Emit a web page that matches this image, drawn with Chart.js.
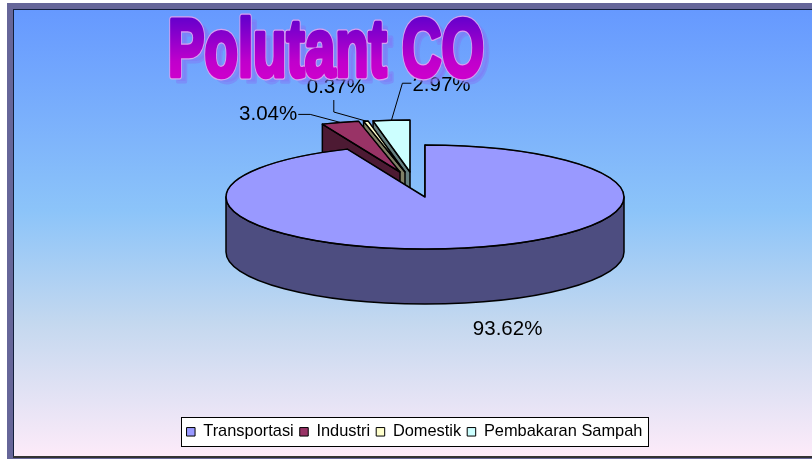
<!DOCTYPE html>
<html><head><meta charset="utf-8">
<style>html,body{margin:0;padding:0;background:#fff}canvas{display:block}</style>
<script src="https://cdn.jsdelivr.net/npm/chart.js@4/dist/chart.umd.min.js"></script>
</head><body>
<div style="width:812px;height:459px"><canvas id="c" width="812" height="459"></canvas></div>
<script>
const categories = ['Transportasi','Industri','Domestik','Pembakaran Sampah'];
const percentages = [93.62,3.04,0.37,2.97];
const faceColors = ['#9999ff','#993366','#ffffcc','#ccffff'];
const wallColors = ['#4d4d80','#4d1a33','#808066','#668080'];
const titleText = 'Polutant CO';

const CX=425, CY=197, RX=199, RY=52, DEPTH=55;
const explodeX=[0,-25,-20,-15], explodeY=[0,-25,-25,-25];
const labelOffset=[[43,81],[-72,-8],[-30,-34],[50,-35]];
const K=RY/RX;
const FONT='"Liberation Sans", Arial, sans-serif';

function place(ctx,arc,i){
  ctx.translate(CX+explodeX[i],CY+explodeY[i]);
  ctx.scale(1,K);
  ctx.translate(-arc.x,-arc.y);
}
function pt(arc,i,a){
  return [CX+explodeX[i]+Math.cos(a)*RX, CY+explodeY[i]+Math.sin(a)*RY];
}
function drawWall(ctx,arc,i){
  ctx.lineWidth=1.5;ctx.strokeStyle='#000';ctx.fillStyle=wallColors[i];ctx.lineJoin='round';
  const a=arc.startAngle, p=pt(arc,i,a);
  const tx=CX+explodeX[i], ty=CY+explodeY[i];
  ctx.beginPath();ctx.moveTo(tx,ty);ctx.lineTo(p[0],p[1]);ctx.lineTo(p[0],p[1]+DEPTH);ctx.lineTo(tx,ty+DEPTH);ctx.closePath();
  ctx.fill();ctx.stroke();
  const s=Math.max(arc.startAngle,0), e=Math.min(arc.endAngle,Math.PI);
  if(e>s){
    ctx.beginPath();
    ctx.ellipse(tx,ty,RX,RY,0,s,e,false);
    ctx.ellipse(tx,ty+DEPTH,RX,RY,0,e,s,true);
    ctx.closePath();ctx.fill();ctx.stroke();
  }
}
function drawFace(ctx,arc,i){
  ctx.save();place(ctx,arc,i);arc.draw(ctx);ctx.restore();
  const tx=CX+explodeX[i], ty=CY+explodeY[i];
  ctx.lineWidth=1.5;ctx.strokeStyle='#000';ctx.lineJoin='round';
  ctx.beginPath();ctx.moveTo(tx,ty);
  ctx.ellipse(tx,ty,RX,RY,0,arc.startAngle,arc.endAngle,false);
  ctx.closePath();ctx.stroke();
}
const pie3d={
  id:'pie3d',
  beforeDraw(chart){
    const ctx=chart.ctx,W=chart.width,H=chart.height;
    ctx.save();
    ctx.fillStyle='#fff';ctx.fillRect(0,0,W,H);
    ctx.fillStyle='#666699';ctx.fillRect(7,3,W-7,H-3);
    const g=ctx.createLinearGradient(0,10,0,457);
    g.addColorStop(0,'#6699ff');g.addColorStop(0.45,'#8cc4f9');g.addColorStop(0.7,'#c4d8ef');g.addColorStop(1,'#fdebf9');
    ctx.fillStyle=g;ctx.fillRect(14,10,W-14,446);
    ctx.fillStyle='#14203c';ctx.fillRect(13,9,W-13,1);ctx.fillRect(13,9,1,448);
    ctx.fillStyle='#333';ctx.fillRect(13,456,W-13,2);
    ctx.fillStyle='#fff';ctx.strokeStyle='#000';ctx.lineWidth=1;
    ctx.fillRect(181.5,417.5,467,29);ctx.strokeRect(181.5,417.5,467,29);
    ctx.restore();
  },
  beforeDatasetDraw(chart){
    const ctx=chart.ctx,arcs=chart.getDatasetMeta(0).data;
    ctx.save();
    for(let i=arcs.length-1;i>=0;i--){drawWall(ctx,arcs[i],i);drawFace(ctx,arcs[i],i);}
    ctx.restore();
    return false;
  },
  afterDatasetsDraw(chart){
    const ctx=chart.ctx,arcs=chart.getDatasetMeta(0).data;
    ctx.save();
    ctx.font='20.5px '+FONT;ctx.textBaseline='middle';ctx.textAlign='center';
    arcs.forEach((arc,i)=>{
      const mid=(arc.startAngle+arc.endAngle)/2,p=pt(arc,i,mid);
      const lx=p[0]+labelOffset[i][0],ly=p[1]+labelOffset[i][1];
      const text=percentages[i].toFixed(2)+'%';
      ctx.strokeStyle='#000';ctx.lineWidth=1;
      if(i>0){
        const w=ctx.measureText(text).width/2;
        ctx.beginPath();
        if(i===1){ctx.moveTo(lx+w+1,ly);ctx.lineTo(lx+w+13,ly);}
        if(i===2){ctx.moveTo(lx-2,ly+13);ctx.lineTo(lx-2,ly+25);}
        if(i===3){ctx.moveTo(lx-w-1,ly-2);ctx.lineTo(lx-w-10,ly-2);}
        ctx.lineTo(p[0],p[1]);ctx.stroke();
      }
      ctx.fillStyle='#000';ctx.fillText(text,lx,ly);
    });
    ctx.restore();
  },
  afterDraw(chart){
    const ctx=chart.ctx;
    ctx.save();
    ctx.font='bold 82px "Liberation Sans Narrow", "Liberation Sans", sans-serif';
    ctx.textBaseline='alphabetic';ctx.textAlign='left';ctx.lineJoin='round';
    const w=ctx.measureText(titleText).width, sx=316/w;
    ctx.translate(168,76);ctx.scale(sx,1);
    ctx.fillStyle='rgba(130,120,245,0.5)';ctx.strokeStyle='rgba(130,120,245,0.5)';ctx.lineWidth=5;
    ctx.strokeText(titleText,9,5);
    ctx.fillText(titleText,9,5);
    const g=ctx.createLinearGradient(0,-58,0,0);
    g.addColorStop(0,'#6600cc');g.addColorStop(0.75,'#c000cc');g.addColorStop(1,'#cc00cc');
    ctx.strokeStyle='#d8a0f0';ctx.lineWidth=7;ctx.strokeText(titleText,0,0);
    ctx.strokeStyle=g;ctx.lineWidth=4.5;ctx.strokeText(titleText,0,0);
    ctx.fillStyle=g;ctx.fillText(titleText,0,0);
    ctx.restore();
  }
};
new Chart(document.getElementById('c'),{
  type:'pie',
  data:{labels:categories,datasets:[{data:percentages,backgroundColor:faceColors,borderColor:'#000',borderWidth:1}]},
  options:{
    responsive:false,animation:false,events:[],radius:RX,
    layout:{padding:{left:17,right:0,top:0,bottom:9}},
    plugins:{
      title:{display:false},tooltip:{enabled:false},
      legend:{display:true,position:'bottom',
        labels:{font:{family:FONT,size:16.4},color:'#000',boxWidth:8.5,boxHeight:8.5,padding:6}}
    }
  },
  plugins:[pie3d]
});
</script>
</body></html>
